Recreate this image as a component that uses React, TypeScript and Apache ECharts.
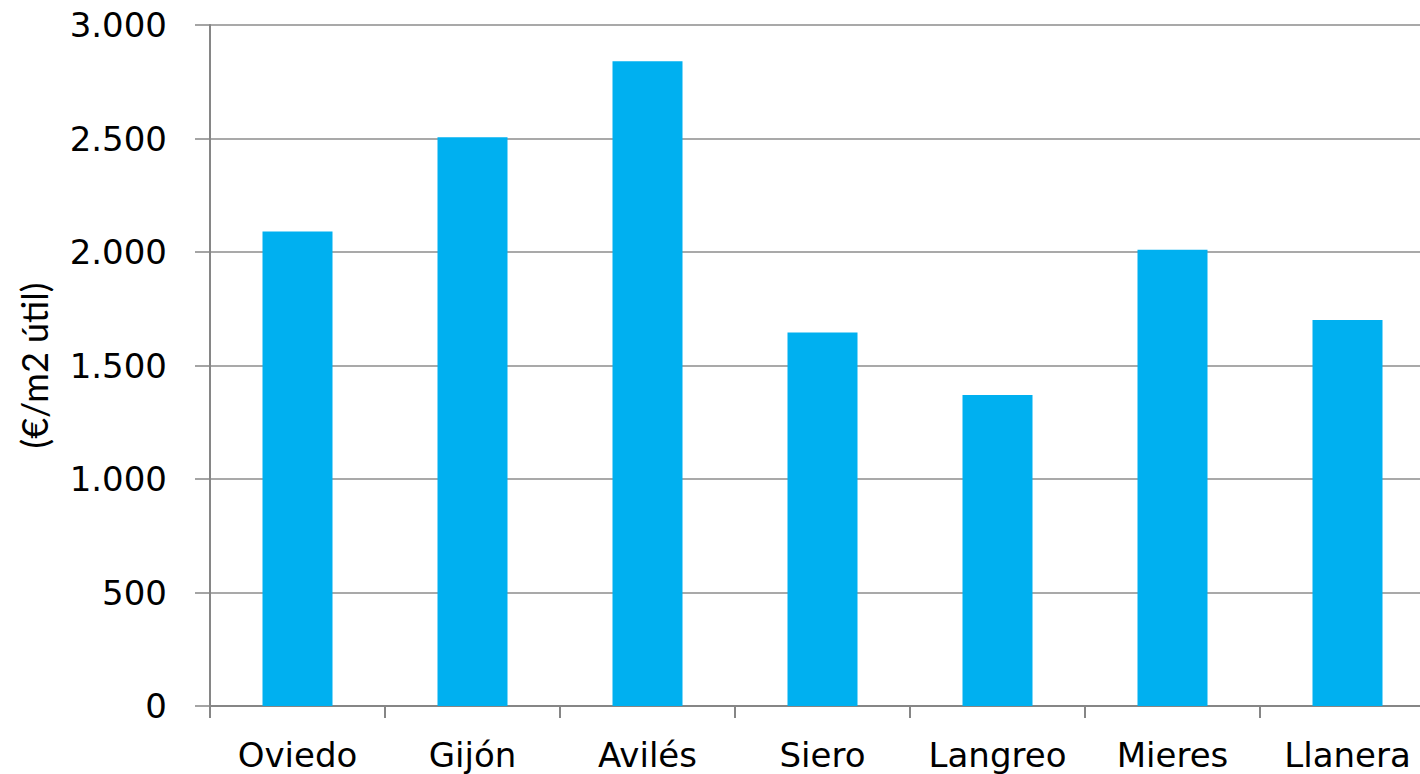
import React, { useEffect, useRef } from "react";
import * as echarts from "echarts";

// Precio medio de la vivienda por municipio
const municipios = ["Oviedo", "Gijón", "Avilés", "Siero", "Langreo", "Mieres", "Llanera"];
const precios = [2090, 2505, 2840, 1645, 1370, 2010, 1700];
const yTicks = [0, 500, 1000, 1500, 2000, 2500, 3000];

const fmtMiles = (v: number) => String(v).replace(/\B(?=(\d{3})+(?!\d))/g, ".");

export default function App() {
  const ref = useRef<HTMLDivElement>(null);

  useEffect(() => {
    if (!ref.current) return;
    const chart = echarts.init(ref.current, undefined, { renderer: "svg" });
    chart.setOption({
      animation: false,
      // the plot runs slightly past the visible right edge
      grid: { left: 210, top: 25, bottom: 68, right: 5, containLabel: false },
      xAxis: {
        type: "category",
        data: municipios,
        axisLine: { lineStyle: { color: "#868686", width: 2 } },
        axisTick: { show: true, length: 12, lineStyle: { color: "#868686", width: 2 } },
        axisLabel: {
          interval: 0,
          color: "#000",
          fontFamily: "DejaVu Sans",
          fontSize: 34,
          margin: 32,
        },
      },
      yAxis: {
        type: "value",
        min: yTicks[0],
        max: yTicks[yTicks.length - 1],
        interval: 500,
        name: "(€/m2 útil)",
        nameLocation: "middle",
        nameRotate: 90,
        nameGap: 158,
        nameTextStyle: { color: "#000", fontFamily: "Lato", fontSize: 36 },
        axisLine: { show: true, lineStyle: { color: "#868686", width: 2 } },
        axisTick: { show: true, length: 15, lineStyle: { color: "#868686", width: 1.5 } },
        axisLabel: {
          color: "#000",
          fontFamily: "DejaVu Sans",
          fontSize: 34,
          margin: 43,
          formatter: (v: number) => fmtMiles(v),
        },
        splitLine: { lineStyle: { color: "#8c8c8c", width: 1.5 } },
      },
      series: [
        {
          type: "bar",
          data: precios,
          barWidth: 70,
          itemStyle: { color: "#00B0F0" },
        },
      ],
    });
    return () => chart.dispose();
  }, []);

  return (
    <div style={{ position: "fixed", left: 0, top: 0, width: 1420, height: 774, overflow: "hidden", background: "#fff" }}>
      <div ref={ref} style={{ width: 1440, height: 774 }} />
    </div>
  );
}
